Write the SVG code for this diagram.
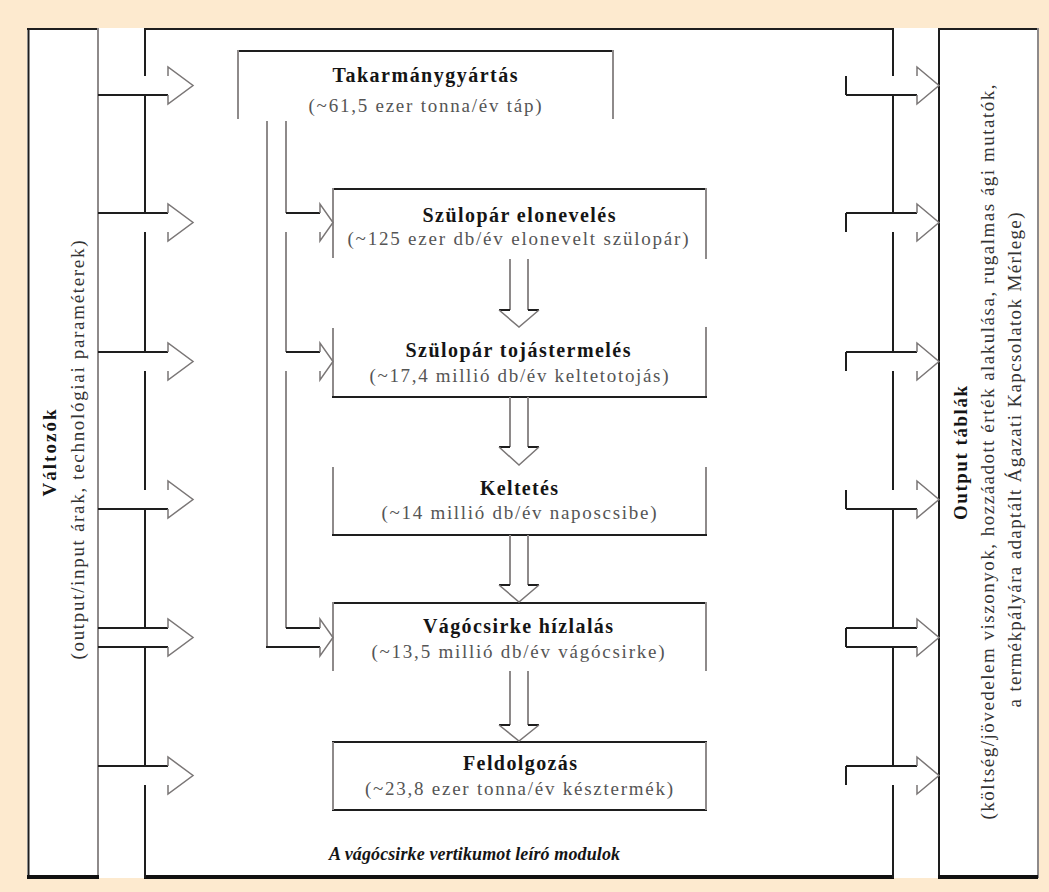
<svg xmlns="http://www.w3.org/2000/svg" width="1049" height="892" viewBox="0 0 1049 892">
<style>
.k{stroke:#1e1e1e;stroke-width:2;fill:none}
.kb{stroke:#111;stroke-width:4;fill:none}
.g{stroke:#8e8a8a;stroke-width:2;fill:none}
.h{stroke:#7a7676;stroke-width:1.5;fill:none;stroke-linejoin:miter}
.t{font-family:"Liberation Serif","Times New Roman",serif;font-size:20px;font-weight:bold;fill:#151515;text-anchor:middle}
.s{font-family:"Liberation Serif","Times New Roman",serif;font-size:19px;fill:#555;text-anchor:middle}
.c{font-family:"Liberation Serif","Times New Roman",serif;font-size:18px;font-weight:bold;font-style:italic;fill:#151515}
.vb{font-family:"Liberation Serif","Times New Roman",serif;font-size:19px;font-weight:bold;fill:#151515;text-anchor:middle}
.vn{font-family:"Liberation Serif","Times New Roman",serif;font-size:19px;fill:#333;text-anchor:middle}
</style>
<rect width="1049" height="892" fill="#fdeacf"/>
<rect x="27" y="28" width="1011" height="850" fill="#fff"/>

<g id="panel-valtozok">
<path class="k" d="M28.5,28 V878" stroke-width="3"/>
<path class="k" d="M27,29 H98"/>
<path class="g" d="M98,28 V878"/>
<path class="kb" d="M27,877 H99"/>
<text class="vb" transform="translate(56,453) rotate(-90)" textLength="87" lengthAdjust="spacing">Változók</text>
<text class="vn" transform="translate(84,450) rotate(-90)" textLength="419" lengthAdjust="spacing">(output/input árak, technológiai paraméterek)</text>
</g>

<g id="panel-output">
<path class="k" d="M939,29 H1038"/>
<path class="k" d="M939,28 V878"/>
<path class="g" d="M1038,28 V878"/>
<path class="kb" d="M938,877 H1038"/>
<text class="vb" transform="translate(967,453) rotate(-90)" textLength="134" lengthAdjust="spacing">Output táblák</text>
<text class="vn" transform="translate(994,452) rotate(-90)" textLength="735" lengthAdjust="spacing">(költség/jövedelem viszonyok, hozzáadott érték alakulása, rugalmas ági mutatók,</text>
<text class="vn" transform="translate(1021,460) rotate(-90)" textLength="495" lengthAdjust="spacing">a termékpályára adaptált Ágazati Kapcsolatok Mérlege)</text>
</g>

<g id="modulok">
<path class="k" d="M145,29 H893"/>
<path class="kb" d="M144,877 H894"/>
<path class="k" d="M145,28 V76 M145,95 V213 M145,232 V352 M145,371 V490 M145,509 V628 M145,647 V766 M145,785 V878"/>
<path class="k" d="M893,28 V76 M893,95 V213 M893,232 V352 M893,371 V490 M893,509 V628 M893,647 V766 M893,785 V878"/>
<text class="c" x="329" y="860" textLength="291" lengthAdjust="spacing">A vágócsirke vertikumot leíró modulok</text>
</g>

<g id="node-takarmanygyartas">
<path class="k" d="M238,51 H613"/>
<path class="g" d="M238,50 V119 M613,50 V119"/>
<text class="t" x="425" y="82" textLength="185" lengthAdjust="spacing">Takarmánygyártás</text>
<text class="s" x="425" y="112" textLength="233" lengthAdjust="spacing">(~61,5 ezer tonna/év táp)</text>
</g>

<g id="node-elonevelés">
<path class="k" d="M333,189 H706"/>
<path class="g" d="M333,188 V258 M706,188 V259"/>
<text class="t" x="519" y="222" textLength="193" lengthAdjust="spacing">Szülopár elonevelés</text>
<text class="s" x="518" y="245" textLength="341" lengthAdjust="spacing">(~125 ezer db/év elonevelt szülopár)</text>
</g>

<g id="node-tojastermeles">
<path class="g" d="M333,328 V397 M706,327 V397"/>
<path class="k" d="M332,397 H707"/>
<text class="t" x="518" y="357" textLength="225" lengthAdjust="spacing">Szülopár tojástermelés</text>
<text class="s" x="519" y="382" textLength="299" lengthAdjust="spacing">(~17,4 millió db/év keltetotojás)</text>
</g>

<g id="node-keltetes">
<path class="g" d="M333,467 V535 M706,467 V535"/>
<path class="k" d="M332,535 H707"/>
<text class="t" x="519" y="495" textLength="78" lengthAdjust="spacing">Keltetés</text>
<text class="s" x="519" y="519" textLength="275" lengthAdjust="spacing">(~14 millió db/év naposcsibe)</text>
</g>

<g id="node-hizlalas">
<path class="k" d="M332,603 H707"/>
<path class="g" d="M333,602 V671 M706,602 V671"/>
<text class="t" x="518" y="633" textLength="190" lengthAdjust="spacing">Vágócsirke hízlalás</text>
<text class="s" x="518" y="658" textLength="293" lengthAdjust="spacing">(~13,5 millió db/év vágócsirke)</text>
</g>

<g id="node-feldolgozas">
<path class="k" d="M332,742 H707 M332,810 H707"/>
<path class="g" d="M333,742 V810 M706,742 V810"/>
<text class="t" x="520" y="770" textLength="114" lengthAdjust="spacing">Feldolgozás</text>
<text class="s" x="519" y="795" textLength="308" lengthAdjust="spacing">(~23,8 ezer tonna/év késztermék)</text>
</g>

<g id="connectors">
<!-- left input arrows -->
<path class="k" d="M98,95 H168 M98,213 H168 M98,352 H168 M98,509 H168 M98,628 H168 M98,647 H168 M98,766 H168"/>
<path class="h" d="M168,76 V67 L193,85.5 L168,104 V95"/>
<path class="h" d="M168,213 V204 L193,222.5 L168,241 V232"/>
<path class="h" d="M168,352 V343 L193,361.5 L168,380 V371"/>
<path class="h" d="M168,490 V481 L193,499.5 L168,518 V509"/>
<path class="h" d="M168,628 V619 L193,637.5 L168,656 V647"/>
<path class="h" d="M168,766 V757 L193,775.5 L168,794 V785"/>
<!-- right output arrows -->
<path class="k" d="M846,76 V95 M846,213 V232 M846,352 V371 M846,490 V509 M846,628 V647 M846,766 V785"/>
<path class="k" d="M846,95 H917 M846,213 H917 M846,352 H917 M846,509 H917 M846,628 H917 M846,647 H917 M846,766 H917"/>
<path class="h" d="M917,76 V67 L939,85.5 L917,104 V95"/>
<path class="h" d="M917,213 V204 L939,222.5 L917,241 V232"/>
<path class="h" d="M917,352 V343 L939,361.5 L917,380 V371"/>
<path class="h" d="M917,490 V481 L939,499.5 L917,518 V509"/>
<path class="h" d="M917,628 V619 L939,637.5 L917,656 V647"/>
<path class="h" d="M917,766 V757 L939,775.5 L917,794 V785"/>
<!-- feed distribution -->
<path class="g" d="M267,121 V647"/>
<path class="g" d="M286,121 V213 M286,232 V352 M286,371 V628"/>
<path class="k" d="M286,213 H320 M286,352 H320 M286,628 H320 M266,647 H320"/>
<path class="h" d="M320,213 V204 L333,222.5 L320,241 V232"/>
<path class="h" d="M320,352 V343 L333,361.5 L320,380 V371"/>
<path class="h" d="M320,628 V619 L333,637.5 L320,656 V647"/>
<!-- vertical flow arrows -->
<path class="g" d="M510,259 V310 M528,259 V310"/>
<path class="k" d="M499,310 H510 M528,310 H539"/>
<path class="h" d="M499,310 L519,327 L539,310"/>
<path class="g" d="M510,397 V447 M528,397 V447"/>
<path class="k" d="M499,447 H510 M528,447 H539"/>
<path class="h" d="M499,447 L519,465 L539,447"/>
<path class="g" d="M510,535 V585 M528,535 V585"/>
<path class="k" d="M499,585 H510 M528,585 H539"/>
<path class="h" d="M499,585 L519,602 L539,585"/>
<path class="g" d="M510,671 V725 M528,671 V725"/>
<path class="k" d="M499,725 H510 M528,725 H539"/>
<path class="h" d="M499,725 L519,741 L539,725"/>
</g>
</svg>
